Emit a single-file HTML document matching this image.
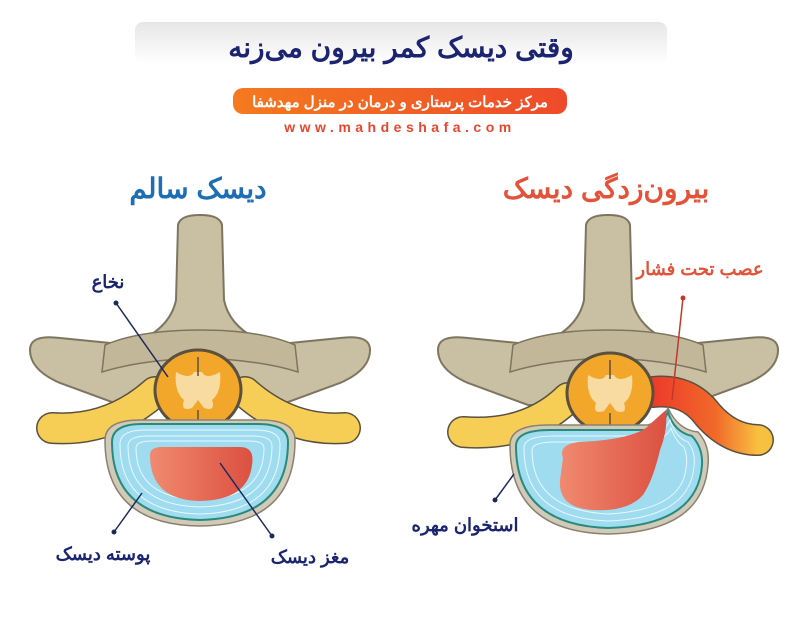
<!DOCTYPE html>
<html><head><meta charset="utf-8"><style>
html,body{margin:0;padding:0;background:#fff;width:800px;height:620px;overflow:hidden}
svg{display:block}
text{font-family:"Liberation Sans","Noto Sans CJK SC",sans-serif;font-weight:bold}
</style></head><body>
<svg width="800" height="620" viewBox="0 0 800 620" xmlns="http://www.w3.org/2000/svg">
<defs>
<linearGradient id="hdr" x1="0" y1="0" x2="0" y2="1"><stop offset="0" stop-color="#e6e6e6"/><stop offset="1" stop-color="#ffffff"/></linearGradient>
<linearGradient id="pill" x1="0" y1="0" x2="1" y2="0"><stop offset="0" stop-color="#f47a1f"/><stop offset="1" stop-color="#ee4a2a"/></linearGradient>
<linearGradient id="nuc" x1="0" y1="0" x2="1" y2="0"><stop offset="0" stop-color="#f08a70"/><stop offset="1" stop-color="#dc5040"/></linearGradient>
<linearGradient id="rn" x1="0" y1="0" x2="1" y2="0"><stop offset="0" stop-color="#ee3a2a"/><stop offset="0.6" stop-color="#f06a2a"/><stop offset="1" stop-color="#f8c040"/></linearGradient>
<g id="bone">
  <path d="M-22,225 Q-20,215 0,215 Q20,215 22,225 L24,300 Q30,330 70,345 L140,338 Q170,334 170,350 Q170,370 140,383 L80,405 L-80,405 L-140,383 Q-170,370 -170,350 Q-170,334 -140,338 L-70,345 Q-30,330 -24,300 Z" fill="#c9bfa3" stroke="#7d7560" stroke-width="2"/>
  <path d="M-95,345 Q-60,330 0,330 Q60,330 95,345 L98,372 Q60,360 0,358 Q-60,360 -98,372 Z" fill="#c2b799" stroke="#7d7560" stroke-width="1.5"/>
</g>
<g id="cord">
  <ellipse cx="0" cy="390" rx="43" ry="40" fill="#f2a72a" stroke="#5a5040" stroke-width="3"/>
  <path d="M-22,372 Q-8,380 -4,372 L4,372 Q8,380 22,372 Q24,392 14,400 Q18,412 6,408 L0,400 L-6,408 Q-18,412 -14,400 Q-24,392 -22,372 Z" fill="#f8dba0"/>
  <line x1="0" y1="357" x2="0" y2="376" stroke="#5a5040" stroke-width="1.5"/>
  <line x1="0" y1="410" x2="0" y2="428" stroke="#5a5040" stroke-width="1.5"/>
</g>
</defs>

<rect x="135" y="22" width="532" height="42" rx="8" fill="url(#hdr)"/>
<text x="401" y="57" font-size="28" fill="#1b2470" text-anchor="middle" direction="rtl">وقتی دیسک کمر بیرون می‌زنه</text>
<rect x="233" y="88" width="334" height="26" rx="10" fill="url(#pill)"/>
<text x="400" y="107" font-size="15" fill="#fff" text-anchor="middle" direction="rtl">مرکز خدمات  پرستاری و درمان در منزل مهدشفا</text>
<text x="400" y="132" font-size="14" fill="#e8462e" text-anchor="middle" font-weight="normal" letter-spacing="4.5">www.mahdeshafa.com</text>

<text x="198" y="198" font-size="28" fill="#1e6eb5" text-anchor="middle" direction="rtl">دیسک سالم</text>
<text x="606" y="198" font-size="28" fill="#e2533a" text-anchor="middle" direction="rtl">بیرون‌زدگی دیسک</text>

<!-- LEFT -->
<g transform="translate(200,0)">
  <use href="#bone"/>
  <path d="M-148,428 Q-90,432 -45,392" fill="none" stroke="#5a5040" stroke-width="32" stroke-linecap="round"/>
  <path d="M-148,428 Q-90,432 -45,392" fill="none" stroke="#f6cd55" stroke-width="29" stroke-linecap="round"/>
  <path d="M45,392 Q90,432 145,428" fill="none" stroke="#5a5040" stroke-width="32" stroke-linecap="round"/>
  <path d="M45,392 Q90,432 145,428" fill="none" stroke="#f6cd55" stroke-width="29" stroke-linecap="round"/>
  <use href="#cord" transform="translate(-2,0)"/>
  <path d="M-95,440 Q-95,420 -60,420 L60,420 Q95,420 95,440 Q95,525 0,526 Q-95,525 -95,440 Z" fill="#d2cab8" stroke="#8a8270" stroke-width="1.5"/>
  <path d="M-88,442 Q-88,424 -58,424 L58,424 Q88,424 88,442 Q88,518 0,520 Q-88,518 -88,442 Z" fill="#9fdcf0" stroke="#2a8a7a" stroke-width="2"/>
  <g fill="none" stroke="#e8f7ff" stroke-width="1">
    <path d="M-80,444 Q-80,430 -55,430 L55,430 Q80,430 80,444 Q80,512 0,514 Q-80,512 -80,444 Z"/>
    <path d="M-72,446 Q-72,436 -52,436 L52,436 Q72,436 72,446 Q72,505 0,507 Q-72,505 -72,446 Z"/>
    <path d="M-64,448 Q-64,441 -48,441 L48,441 Q64,441 64,448 Q64,498 0,500 Q-64,498 -64,448 Z"/>
  </g>
  <path d="M-50,455 Q-50,447 -38,447 L40,447 Q55,447 52,465 Q48,500 0,501 Q-50,500 -50,455 Z" fill="url(#nuc)"/>
  <line x1="-84" y1="303" x2="-32" y2="377" stroke="#1b2a5a" stroke-width="1.5"/><circle cx="-84" cy="303" r="2.5" fill="#1b2a5a"/>
  <line x1="20" y1="463" x2="72" y2="536" stroke="#1b2a5a" stroke-width="1.5"/><circle cx="72" cy="536" r="2.5" fill="#1b2a5a"/>
  <line x1="-58" y1="493" x2="-86" y2="532" stroke="#1b2a5a" stroke-width="1.5"/><circle cx="-86" cy="532" r="2.5" fill="#1b2a5a"/>
</g>
<text x="108" y="288" font-size="18" fill="#1b2470" text-anchor="middle" direction="rtl">نخاع</text>
<text x="310" y="563" font-size="18" fill="#1b2470" text-anchor="middle" direction="rtl">مغز دیسک</text>
<text x="103" y="560" font-size="18" fill="#1b2470" text-anchor="middle" direction="rtl">پوسته دیسک</text>

<!-- RIGHT -->
<g transform="translate(608,0)">
  <use href="#bone"/>
  <path d="M-145,432 Q-80,437 -40,398" fill="none" stroke="#5a5040" stroke-width="32" stroke-linecap="round"/>
  <path d="M-145,432 Q-80,437 -40,398" fill="none" stroke="#f6cd55" stroke-width="29" stroke-linecap="round"/>
  <path d="M45,392 Q80,388 100,415 Q122,440 150,440" fill="none" stroke="#5a5040" stroke-width="32" stroke-linecap="round"/>
  <path d="M45,392 Q80,388 100,415 Q122,440 150,440" fill="none" stroke="url(#rn)" stroke-width="29" stroke-linecap="round"/>
  <use href="#cord" transform="translate(2,3)"/>
  <path d="M-98,445 Q-98,425 -60,425 L40,425 Q55,420 60,408 Q70,430 90,432 Q102,445 100,465 Q95,532 0,534 Q-98,532 -98,445 Z" fill="#d2cab8" stroke="#8a8270" stroke-width="1.5"/>
  <path d="M-92,446 Q-92,430 -58,430 L40,430 Q55,425 60,412 Q66,432 84,436 Q95,448 94,465 Q90,525 0,528 Q-92,525 -92,446 Z" fill="#9fdcf0" stroke="#2a8a7a" stroke-width="2"/>
  <g fill="none" stroke="#e8f7ff" stroke-width="1">
    <path d="M-84,448 Q-84,436 -55,436 L44,436 Q58,430 62,420 Q68,438 80,442 Q88,452 86,466 Q82,518 0,521 Q-84,518 -84,448 Z"/>
    <path d="M-76,450 Q-76,442 -52,442 L46,442 Q60,436 63,428 Q68,442 76,447 Q80,458 78,468 Q74,510 0,514 Q-76,510 -76,450 Z"/>
  </g>
  <path d="M-45,458 Q-50,445 -30,442 Q20,440 38,428 Q52,415 58,410 Q60,430 52,450 Q45,480 35,495 Q20,512 -15,510 Q-50,508 -48,480 Z" fill="url(#nuc)"/>
  <line x1="75" y1="298" x2="64" y2="400" stroke="#c0392b" stroke-width="1.5"/><circle cx="75" cy="298" r="2.5" fill="#c0392b"/>
  <line x1="-94" y1="474" x2="-113" y2="500" stroke="#1b2a5a" stroke-width="1.5"/><circle cx="-113" cy="500" r="2.5" fill="#1b2a5a"/>
</g>
<text x="700" y="275" font-size="18" fill="#e2533a" text-anchor="middle" direction="rtl">عصب تحت فشار</text>
<text x="465" y="531" font-size="18" fill="#1b2470" text-anchor="middle" direction="rtl">استخوان مهره</text>
</svg>
</body></html>
